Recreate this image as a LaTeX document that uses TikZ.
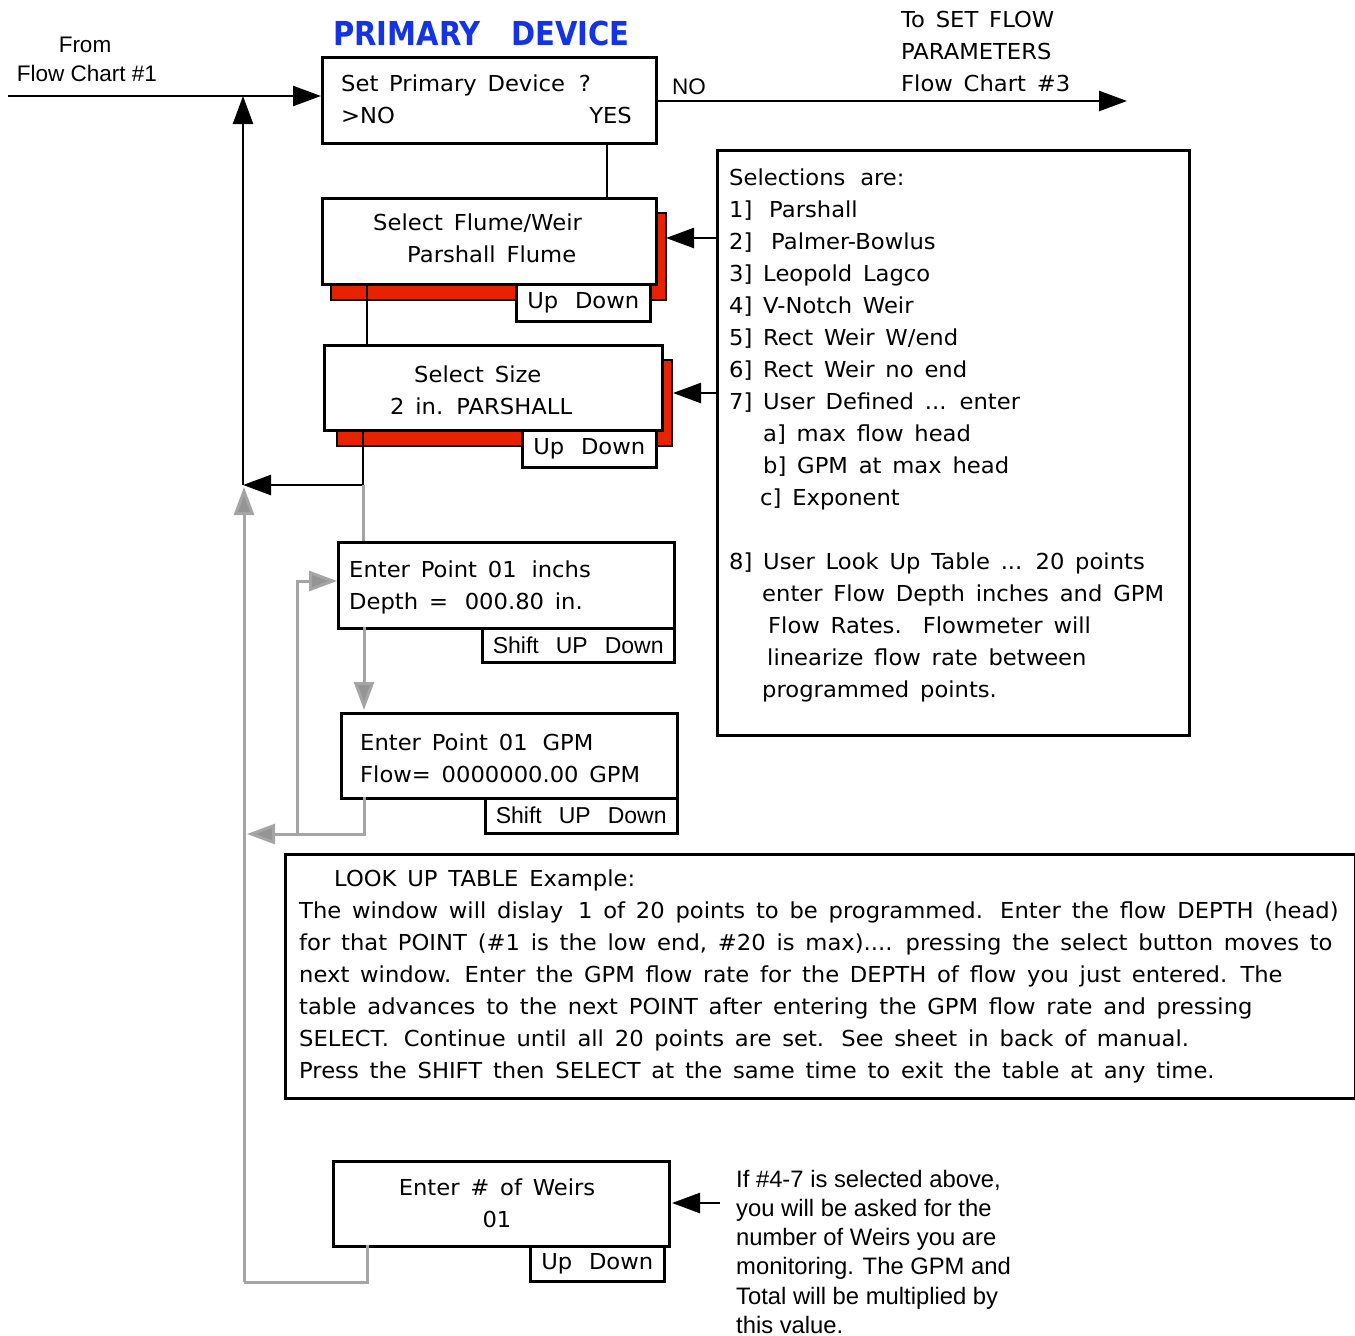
\documentclass[tikz,border=0pt]{standalone}
\usepackage{fontspec}
\setmainfont{DejaVu Sans}[WordSpace=1.5, FakeStretch=1.03]
\newfontfamily\hv{Liberation Sans}
\newfontfamily\ttl[FakeStretch=0.88]{DejaVu Sans Bold}
\usetikzlibrary{arrows.meta}
\newcommand\tdots{...}
\newcommand\qdots{....}
\definecolor{shred}{RGB}{230,34,0}
\definecolor{ttlblue}{RGB}{20,50,230}
\definecolor{lgray}{RGB}{165,165,165}
\tikzset{
  bx/.style={draw=black, line width=2.5pt, fill=white, inner sep=0pt, anchor=north west},
  shadow/.style={draw=black, line width=2.5pt, fill=shred},
  tx/.style={inner sep=0pt, anchor=base west, font=\fontsize{22}{26}\selectfont},
  hx/.style={inner sep=0pt, anchor=base west, font=\hv\fontsize{22.5}{26}\selectfont},
  ln/.style={line width=2.5pt},
  gln/.style={line width=3pt, draw=lgray},
  arr/.style={ln, -{Triangle[length=28pt,width=20pt]}},
  garr/.style={gln, -{Triangle[length=28pt,width=20pt,fill=lgray!90!black]}},
}
\begin{document}
\begin{tikzpicture}[x=1pt,y=-1pt]
\useasboundingbox (0,0) rectangle (1355,1336);
% title
\node[inner sep=0pt, anchor=base west, font=\ttl\fontsize{33}{36}\selectfont, text=ttlblue] (t1) at (333,45) {PRIMARY};
\node[inner sep=0pt, anchor=base west, font=\ttl\fontsize{33}{36}\selectfont, text=ttlblue] (t2) at (511,45) {DEVICE};
% from
\node[hx, anchor=base] (from1) at (85,52) {From};
\node[hx, anchor=base] (from2) at (87,81) {Flow Chart \#1};
% to
\node[tx] (to1) at (901,27) {To SET FLOW};
\node[tx] (to2) at (901,59) {PARAMETERS};
\node[tx] (to3) at (901,91) {Flow Chart \#3};
\node[hx] (nolab) at (672,94) {NO};
% primary device box
\node[bx, minimum width=334pt, minimum height=86pt] (pd) at (321,56) {};
\node[tx] (pd1) at (341,91) {Set Primary Device\hspace{3pt} ?};
\node[tx] (pd2) at (341,123) {>NO};
\node[tx, anchor=base east] (pd3) at (632,123) {YES};
% connectors top
\coordinate (fs) at (8,96);
\coordinate (fe) at (321,96);
\draw[arr] (fs) -- (fe);
\coordinate (j1) at (243,485);
\coordinate (j1top) at (243,96);
\draw[arr] (j1) -- (j1top);
\coordinate (ns) at (655,101);
\coordinate (ne) at (1127,101);
\draw[arr] (ns) -- (ne);
\coordinate (p1) at (607,142);
\coordinate (p2) at (607,197);
\draw[ln] (p1) -- (p2);
% flume box
\draw[shadow] (331,213) rectangle (666,300);
\node[bx, minimum width=334pt, minimum height=86pt] (fl) at (321,197) {};
\node[tx] (fl1) at (373,230) {Select Flume/Weir};
\node[tx] (fl2) at (407,262) {Parshall Flume};
\node[bx, minimum width=134pt, minimum height=37pt, font=\fontsize{22}{26}\selectfont] (flud) at (515,283) {Up\hspace{6pt} Down};
% size box
\coordinate (q1) at (367,283);
\coordinate (q2) at (367,344);
\draw[ln] (q1) -- (q2);
\draw[shadow] (337,360) rectangle (672,446);
\node[bx, minimum width=338pt, minimum height=85pt] (sz) at (323,344) {};
\node[tx] (sz1) at (414,382) {Select Size};
\node[tx] (sz2) at (390,414) {2 in. PARSHALL};
\node[bx, minimum width=134pt, minimum height=37pt, font=\fontsize{22}{26}\selectfont] (szud) at (521,429) {Up\hspace{6pt} Down};
% size -> back
\coordinate (r1) at (363,429);
\coordinate (r2) at (363,485);
\draw[arr] (r1) -- (r2) -- (j1);
% selections box
\node[bx, minimum width=472pt, minimum height=585pt] (sel) at (716,149) {};
\foreach \t/\xx [count=\i] in {{Selections\hspace{4pt} are:}/729, {1]\hspace{6pt} Parshall}/729, {2]\hspace{8pt} Palmer-Bowlus}/729, {3] Leopold Lagco}/729, {4] V-Notch Weir}/729, {5] Rect Weir W/end}/729, {6] Rect Weir no end}/729, {7] User Defined \tdots{} enter}/729, {a] max flow head}/763, {b] GPM at max head}/763, {c] Exponent}/760}
  \node[tx] (s\i) at (\xx,185+32*\i-32) {\t};
\foreach \t/\xx [count=\i] in {{8] User Look Up Table \tdots{} 20 points}/729, {enter Flow Depth inches and GPM}/762, {Flow Rates.\hspace{8pt} Flowmeter will}/768, {linearize flow rate between}/767, {programmed points.}/762}
  \node[tx] (u\i) at (\xx,569+32*\i-32) {\t};
\coordinate (a1) at (716,238);
\coordinate (a1e) at (666,238);
\draw[arr] (a1) -- (a1e);
\coordinate (a2) at (716,393);
\coordinate (a2e) at (673,393);
\draw[arr] (a2) -- (a2e);
% gray path
\coordinate (g1) at (363,541);
\draw[gln] (r2) -- (g1);
% enter point box
\node[bx, minimum width=336pt, minimum height=86pt] (ep) at (337,541) {};
\node[tx] (ep1) at (349,577) {Enter Point 01\hspace{4pt} inchs};
\node[tx] (ep2) at (349,609) {Depth =\hspace{6pt} 000.80 in.};
\node[bx, minimum width=192pt, minimum height=34pt, font=\hv\fontsize{23}{26}\selectfont] (epud) at (481,627) {Shift\hspace{17pt}UP\hspace{17pt}Down};
\coordinate (g2) at (364,627);
\coordinate (g3) at (364,710);
\draw[garr] (g2) -- (g3);
% GPM box
\node[bx, minimum width=336pt, minimum height=85pt] (gp) at (340,712) {};
\node[tx] (gp1) at (360,750) {Enter Point 01\hspace{4pt} GPM};
\node[tx] (gp2) at (360,782) {Flow= 0000000.00 GPM};
\node[bx, minimum width=192pt, minimum height=35pt, font=\hv\fontsize{23}{26}\selectfont] (gpud) at (484,797) {Shift\hspace{17pt}UP\hspace{17pt}Down};
\coordinate (g4) at (364,797);
\coordinate (g5) at (364,834);
\coordinate (g6) at (247,834);
\draw[garr] (g4) -- (g5) -- (g6);
\coordinate (g7) at (297,834);
\coordinate (g8) at (297,581);
\coordinate (g9) at (337,581);
\draw[garr] (g7) -- (g8) -- (g9);
% long gray return
\coordinate (h1) at (244,1282);
\coordinate (h2) at (244,487);
\draw[garr] (h1) -- (h2);
% lookup table box
\node[bx, minimum width=1070pt, minimum height=244pt] (lk) at (284,853) {};
\node[tx] (lk0) at (334,886) {LOOK UP TABLE Example:};
\foreach \t [count=\i] in {{The window will dislay\hspace{4pt} 1 of 20 points to be programmed.\hspace{4pt} Enter the flow DEPTH (head)}, {for that POINT (\#1 is the low end, \#20 is max)\qdots{} pressing the select button moves to}, {next window. Enter the GPM flow rate for the DEPTH of flow you just entered. The}, {table advances to the next POINT after entering the GPM flow rate and pressing}, {SELECT.\hspace{4pt} Continue until all 20 points are set.\hspace{4pt} See sheet in back of manual.}, {Press the SHIFT then SELECT at the same time to exit the table at any time.}}
  \node[tx] (lk\i) at (299,918+32*\i-32) {\t};
% weirs box
\node[bx, minimum width=336pt, minimum height=85pt] (wr) at (332,1160) {};
\node[tx, anchor=base] (wr1) at (497,1195) {Enter \# of Weirs};
\node[tx, anchor=base] (wr2) at (497,1227) {01};
\node[bx, minimum width=134pt, minimum height=35pt, font=\fontsize{22}{26}\selectfont] (wrud) at (529,1245) {Up\hspace{6pt} Down};
\coordinate (w1) at (367,1245);
\coordinate (w2) at (367,1282);
\draw[gln] (w1) -- (w2) -- (h1);
\coordinate (b1) at (720,1203);
\coordinate (b2) at (672,1203);
\draw[arr] (b1) -- (b2);
\foreach \t [count=\i] in {{If \#4-7 is selected above,}, {you will be asked for the}, {number of Weirs you are}, {monitoring. The GPM and}, {Total will be multiplied by}, {this value.}}
  \node[hx, font=\hv\fontsize{23.8}{26}\selectfont] (wt\i) at (736,1187+29.3*\i-29.3) {\t};
\end{tikzpicture}
\end{document}
